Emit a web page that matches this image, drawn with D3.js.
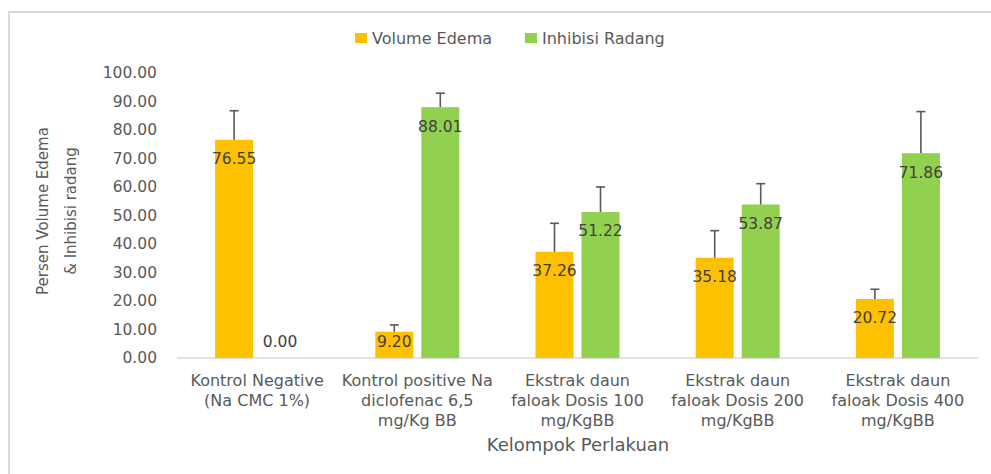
<!DOCTYPE html>
<html>
<head>
<meta charset="utf-8">
<script src="https://cdn.jsdelivr.net/npm/d3@7"></script>
<style>
	body { margin: 0; background: #fff; }
	text { font-family: "DejaVu Sans", sans-serif; }
</style>
</head>
<body>
<div id="chart"></div>
<script>
var categories = [
	["Kontrol Negative", "(Na CMC 1%)"],
	["Kontrol positive Na", "diclofenac 6,5", "mg/Kg BB"],
	["Ekstrak daun", "faloak Dosis 100", "mg/KgBB"],
	["Ekstrak daun", "faloak Dosis 200", "mg/KgBB"],
	["Ekstrak daun", "faloak Dosis 400", "mg/KgBB"]
];
var seriesNames = ["Volume Edema", "Inhibisi Radang"];
var edemaValues = [76.55, 9.20, 37.26, 35.18, 20.72];
var inhibisiValues = [0.00, 88.01, 51.22, 53.87, 71.86];
var edemaErrors = [10.2, 2.4, 10.0, 9.5, 3.4];
var inhibisiErrors = [0, 4.9, 8.8, 7.3, 14.6];
var yTicks = [0, 10, 20, 30, 40, 50, 60, 70, 80, 90, 100];

(function() {
	var width = 991,
		height = 474;
	var colors = { "Volume Edema": "#FFC000", "Inhibisi Radang": "#92D050" };

	var svg = d3.select("#chart")
		.append("svg")
		.attr("width", width)
		.attr("height", height);

	// chart frame
	svg.append("rect")
		.attr("x", 9)
		.attr("y", 12)
		.attr("width", 1000)
		.attr("height", 500)
		.attr("fill", "none")
		.attr("stroke", "#d9d9d9")
		.attr("stroke-width", 2);

	var groups = categories.map(function(c, i) {
		return {
			index: i,
			lines: c,
			bars: [
				{ series: seriesNames[0], value: edemaValues[i], err: edemaErrors[i] },
				{ series: seriesNames[1], value: inhibisiValues[i], err: inhibisiErrors[i] }
			]
		};
	});

	var x0 = d3.scaleBand()
		.domain(d3.range(categories.length))
		.range([177, 978]);

	var bw = x0.bandwidth();
	var x1 = d3.scaleBand()
		.domain(seriesNames)
		.range([(bw - 84) / 2, (bw + 84) / 2])
		.paddingInner(8 / 46);

	var y = d3.scaleLinear()
		.domain([0, 100])
		.range([358, 73]);

	// y axis labels
	var yAxis = svg.append("g")
		.attr("transform", "translate(157,0)")
		.call(d3.axisLeft(y).tickValues(yTicks).tickSize(0).tickPadding(0).tickFormat(d3.format(".2f")));
	yAxis.select(".domain").remove();
	yAxis.selectAll("text")
		.attr("fill", "#595959")
		.style("font-size", "15.5px")
		.style("font-family", "DejaVu Sans");

	// baseline
	svg.append("line")
		.attr("x1", 177)
		.attr("x2", 978)
		.attr("y1", y(0))
		.attr("y2", y(0))
		.attr("stroke", "#d9d9d9")
		.attr("stroke-width", 1.5);

	var g = svg.selectAll(".group")
		.data(groups)
		.enter().append("g")
		.attr("class", "group")
		.attr("transform", function(d) { return "translate(" + x0(d.index) + ",0)"; });

	var bar = g.selectAll(".bar")
		.data(function(d) { return d.bars; })
		.enter().append("g")
		.attr("class", "bar");

	bar.append("rect")
		.attr("x", function(d) { return x1(d.series); })
		.attr("y", function(d) { return y(d.value); })
		.attr("width", x1.bandwidth())
		.attr("height", function(d) { return y(0) - y(d.value); })
		.attr("fill", function(d) { return colors[d.series]; });

	// error bars (plus only)
	var errBars = bar.filter(function(d) { return d.err > 0; });
	errBars.append("line")
		.attr("x1", function(d) { return x1(d.series) + x1.bandwidth() / 2; })
		.attr("x2", function(d) { return x1(d.series) + x1.bandwidth() / 2; })
		.attr("y1", function(d) { return y(d.value); })
		.attr("y2", function(d) { return y(d.value + d.err); })
		.attr("stroke", "#595959")
		.attr("stroke-width", 1.6);
	errBars.append("line")
		.attr("x1", function(d) { return x1(d.series) + x1.bandwidth() / 2 - 4.5; })
		.attr("x2", function(d) { return x1(d.series) + x1.bandwidth() / 2 + 4.5; })
		.attr("y1", function(d) { return y(d.value + d.err); })
		.attr("y2", function(d) { return y(d.value + d.err); })
		.attr("stroke", "#595959")
		.attr("stroke-width", 1.6);

	// value labels, inside end
	bar.append("text")
		.attr("x", function(d) { return x1(d.series) + x1.bandwidth() / 2; })
		.attr("y", function(d) { return Math.min(y(d.value) + 19, y(0) - 16); })
		.attr("dy", "0.35em")
		.attr("text-anchor", "middle")
		.attr("fill", "#404040")
		.style("font-size", "15.5px")
		.text(function(d) { return d3.format(".2f")(d.value); });

	// category labels
	g.append("text")
		.attr("text-anchor", "middle")
		.attr("fill", "#595959")
		.style("font-size", "16px")
		.selectAll("tspan")
		.data(function(d) { return d.lines; })
		.enter().append("tspan")
		.attr("x", bw / 2)
		.attr("y", function(d, i) { return 380 + i * 20; })
		.attr("dy", "0.35em")
		.text(function(d) { return d; });

	// axis titles
	svg.append("text")
		.attr("x", 578)
		.attr("y", 445)
		.attr("dy", "0.35em")
		.attr("text-anchor", "middle")
		.attr("fill", "#595959")
		.style("font-size", "18px")
		.text("Kelompok Perlakuan");

	var yTitle = svg.append("text")
		.attr("transform", "translate(43,211) rotate(-90)")
		.attr("text-anchor", "middle")
		.attr("fill", "#595959")
		.style("font-size", "15px");
	yTitle.append("tspan").attr("x", 0).attr("y", 0).attr("dy", "0.35em").text("Persen Volume Edema");
	yTitle.append("tspan").attr("x", 0).attr("y", 28).attr("dy", "0.35em").text("& Inhibisi radang");

	// legend
	var legendX = [355, 525];
	var legend = svg.selectAll(".legend")
		.data(seriesNames)
		.enter().append("g")
		.attr("class", "legend")
		.attr("transform", function(d, i) { return "translate(" + legendX[i] + ",38)"; });
	legend.append("rect")
		.attr("x", 0)
		.attr("y", -5)
		.attr("width", 12)
		.attr("height", 10)
		.attr("fill", function(d) { return colors[d]; });
	legend.append("text")
		.attr("x", 17)
		.attr("dy", "0.35em")
		.attr("fill", "#595959")
		.style("font-size", "16px")
		.text(function(d) { return d; });
})();
</script>
</body>
</html>
